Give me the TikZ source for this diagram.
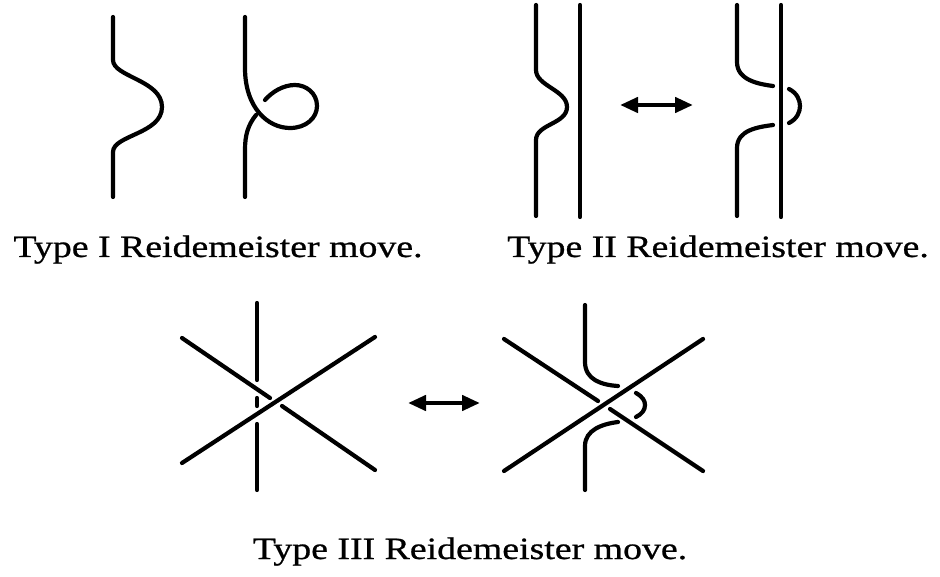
\documentclass[tikz,border=0pt]{standalone}
\usepackage{fontspec}
\setmainfont[FakeStretch=1.22,FakeBold=0.8]{Liberation Serif}
\usetikzlibrary{arrows.meta}
\tikzset{
  strand/.style={line width=4.2pt, line cap=round, black},
  dblarrow/.style={line width=4.4pt, {Triangle[length=18pt,width=15pt]}-{Triangle[length=18pt,width=15pt]}},
  caption/.style={anchor=base, inner sep=0pt, font=\fontsize{31}{34}\selectfont}
}
\begin{document}
\begin{tikzpicture}[x=1pt,y=-1pt]
\useasboundingbox (0,0) rectangle (940,577);
% ---------- Type I ----------
\draw[strand] (113,17) -- (113,60) .. controls (113,77) and (162,80) .. (162,107)
  .. controls (162,134) and (113,135) .. (113,152) -- (113,197);
\draw[strand] (245,17) -- (245,68) .. controls (245,108) and (268,128) .. (290,128)
  .. controls (306,128) and (317,118) .. (317,106) .. controls (317,93) and (306,85) .. (295,85)
  .. controls (283,85) and (272,92) .. (265,100);
\draw[strand] (256,115) .. controls (248,125) and (245,135) .. (245,150) -- (245,197);
\node[caption] (t1) at (218,257) {Type I Reidemeister move.};
% ---------- Type II ----------
\draw[strand] (536,5) -- (536,70) .. controls (536,86) and (567,90) .. (567,107)
  .. controls (567,124) and (536,124) .. (536,140) -- (536,216);
\draw[strand] (580,5) -- (580,217);
\draw[strand] (737,5) -- (737,62) .. controls (737,80) and (758,84) .. (773,86);
\draw[strand] (789,89) .. controls (797,93) and (800,100) .. (800,106)
  .. controls (800,112) and (797,119) .. (789,123);
\draw[strand] (773,125) .. controls (758,127) and (737,130) .. (737,148) -- (737,216);
\draw[strand] (781,5) -- (781,217);
\coordinate (a2l) at (620,105);
\coordinate (a2r) at (693,105);
\draw[dblarrow] (a2l) -- (a2r);
\node[caption] (t2) at (718,257) {Type II Reidemeister move.};
% ---------- Type III left ----------
\draw[strand] (257,303) -- (257,380);
\draw[strand] (257,398) -- (257,406);
\draw[strand] (257,424) -- (257,490);
\draw[strand] (182,338) -- (270,398);
\draw[strand] (282,406) -- (375,470);
\draw[strand] (182,463) -- (375,337);
% arrow
\coordinate (a3l) at (408,403);
\coordinate (a3r) at (480,403);
\draw[dblarrow] (a3l) -- (a3r);
% ---------- Type III right ----------
\draw[strand] (504,339) -- (598,401);
\draw[strand] (610,409) -- (703,471);
\draw[strand] (504,471) -- (703,339);
\draw[strand] (585,305) -- (585,362) .. controls (585,380) and (602,385) .. (618,386);
\draw[strand] (636,393) .. controls (643,397) and (645,401) .. (645,405)
  .. controls (645,410) and (642,414) .. (636,417);
\draw[strand] (618,422) .. controls (602,424) and (585,430) .. (585,446) -- (585,490);
\node[caption] (t3) at (470,559) {Type III Reidemeister move.};
\end{tikzpicture}
\end{document}
